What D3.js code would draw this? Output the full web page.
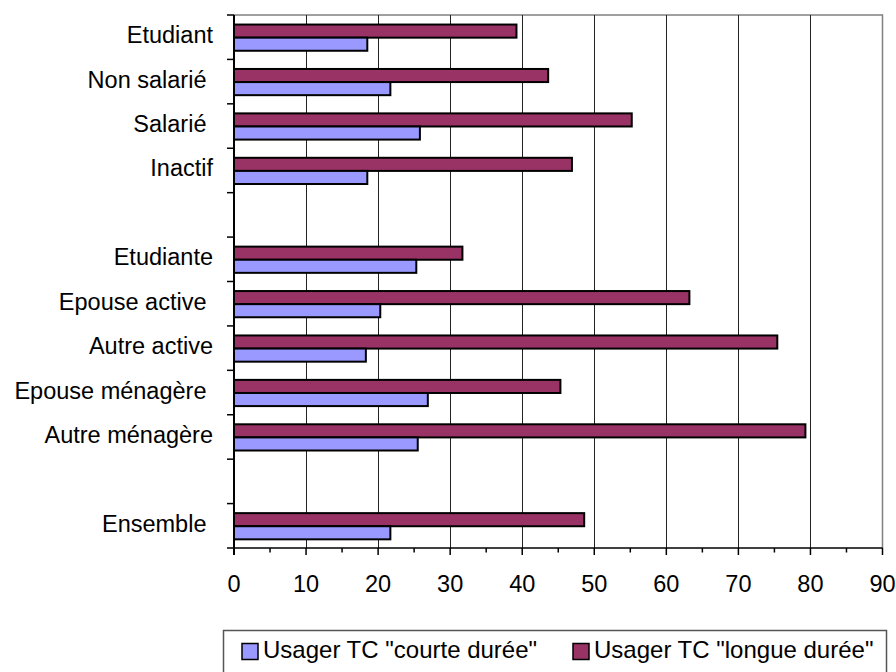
<!DOCTYPE html>
<html>
<head>
<meta charset="utf-8">
<script src="https://cdn.jsdelivr.net/npm/d3@7"></script>
<style>
  html, body { margin: 0; padding: 0; background: #fff; }
  svg { display: block; font-family: "Liberation Sans", Arial, sans-serif; }
  text { white-space: pre; }
</style>
</head>
<body>
<svg id="chart" width="896" height="672"></svg>
<script>
// ---- data ----
const categories = ["Etudiant", "Non salarié ", "Salarié ", "Inactif", "", "Etudiante", "Epouse active ", "Autre active", "Epouse ménagère ", "Autre ménagère", "", "Ensemble "];
const courteDuree = [18.5, 21.7, 25.8, 18.5, null, 25.3, 20.3, 18.3, 26.9, 25.5, null, 21.7];
const longueDuree = [39.2, 43.6, 55.2, 46.9, null, 31.7, 63.2, 75.4, 45.3, 79.3, null, 48.6];
const xTicks = [0, 10, 20, 30, 40, 50, 60, 70, 80, 90];
const seriesNames = ['Usager TC "courte durée"', 'Usager TC "longue durée"'];
const seriesColors = ["#9999FF", "#993366"];

(function () {
// ---- layout ----
const svg = d3.select("#chart");
const pLeft = 234, pRight = 882.5, pTop = 15, pBottom = 548;

const x = d3.scaleLinear().domain([0, 90]).range([pLeft, pRight]);
const y = d3.scaleBand().domain(d3.range(categories.length)).range([pTop, pBottom]).padding(0);
const bw = y.bandwidth();
const inner = d3.scaleBand().domain(["longue", "courte"]).range([bw * 0.215, bw * 0.805]).padding(0);

// plot area border (top & right)
svg.append("path")
  .attr("d", `M${pLeft},${pTop}H${pRight}V${pBottom}`)
  .attr("fill", "none").attr("stroke", "#808080").attr("stroke-width", 1.5);

// gridlines
svg.append("g").selectAll("line").data(xTicks.slice(1, -1)).join("line")
  .attr("x1", d => Math.round(x(d)) + 0.5).attr("x2", d => Math.round(x(d)) + 0.5)
  .attr("y1", pTop).attr("y2", pBottom)
  .attr("stroke", "#222").attr("stroke-width", 1);

// bars
const rows = categories.map((c, i) => ({ i, c, courte: courteDuree[i], longue: longueDuree[i] }))
  .filter(d => d.courte != null);
const g = svg.append("g");
rows.forEach(d => {
  [["longue", d.longue, seriesColors[1]], ["courte", d.courte, seriesColors[0]]].forEach(([k, v, col]) => {
    g.append("rect")
      .attr("x", x(0))
      .attr("y", y(d.i) + inner(k))
      .attr("width", x(v) - x(0))
      .attr("height", inner.bandwidth())
      .attr("fill", col)
      .attr("stroke", "#000").attr("stroke-width", 2);
  });
});

// x axis
const xAxis = svg.append("g");
xAxis.append("line").attr("x1", pLeft).attr("x2", pRight).attr("y1", pBottom).attr("y2", pBottom)
  .attr("stroke", "#000").attr("stroke-width", 1.5);
xAxis.selectAll("line.maj").data(xTicks).join("line").attr("class", "maj")
  .attr("x1", d => x(d)).attr("x2", d => x(d)).attr("y1", pBottom).attr("y2", pBottom + 7)
  .attr("stroke", "#000").attr("stroke-width", 1.5);
xAxis.selectAll("line.min").data(xTicks.slice(0, -1).map(d => d + 5)).join("line").attr("class", "min")
  .attr("x1", d => x(d)).attr("x2", d => x(d)).attr("y1", pBottom).attr("y2", pBottom + 4.5)
  .attr("stroke", "#000").attr("stroke-width", 1.5);
xAxis.selectAll("text").data(xTicks).join("text")
  .attr("x", d => x(d)).attr("y", 592)
  .attr("text-anchor", "middle").attr("font-size", "23.5px").attr("fill", "#000")
  .text(d => d);

// y axis
const yAxis = svg.append("g");
yAxis.append("line").attr("x1", pLeft).attr("x2", pLeft).attr("y1", pTop).attr("y2", pBottom + 7)
  .attr("stroke", "#000").attr("stroke-width", 2);
const bounds = d3.range(categories.length + 1).map(i => pTop + i * bw);
yAxis.selectAll("line.t").data(bounds).join("line").attr("class", "t")
  .attr("x1", pLeft - 7).attr("x2", pLeft).attr("y1", d => d).attr("y2", d => d)
  .attr("stroke", "#000").attr("stroke-width", 1.5);
yAxis.selectAll("text").data(categories.map((c, i) => ({ c, i })).filter(d => d.c !== "")).join("text")
  .attr("x", 213).attr("y", d => y(d.i) + bw / 2 + 6)
  .attr("text-anchor", "end").attr("font-size", "23.5px").attr("fill", "#000")
  .text(d => d.c);

// legend
const lg = svg.append("g");
lg.append("rect").attr("x", 223.5).attr("y", 630.5).attr("width", 663).attr("height", 60)
  .attr("fill", "#fff").attr("stroke", "#555").attr("stroke-width", 1.5);
const legendItems = [
  { name: seriesNames[0], color: seriesColors[0], sx: 242, tx: 263 },
  { name: seriesNames[1], color: seriesColors[1], sx: 573, tx: 594 }
];
legendItems.forEach(it => {
  lg.append("rect").attr("x", it.sx).attr("y", 643.5).attr("width", 16).attr("height", 16)
    .attr("fill", it.color).attr("stroke", "#000").attr("stroke-width", 1.5);
  lg.append("text").attr("x", it.tx).attr("y", 658).attr("font-size", "24px").attr("fill", "#000")
    .text(it.name);
});
})();
</script>
</body>
</html>
